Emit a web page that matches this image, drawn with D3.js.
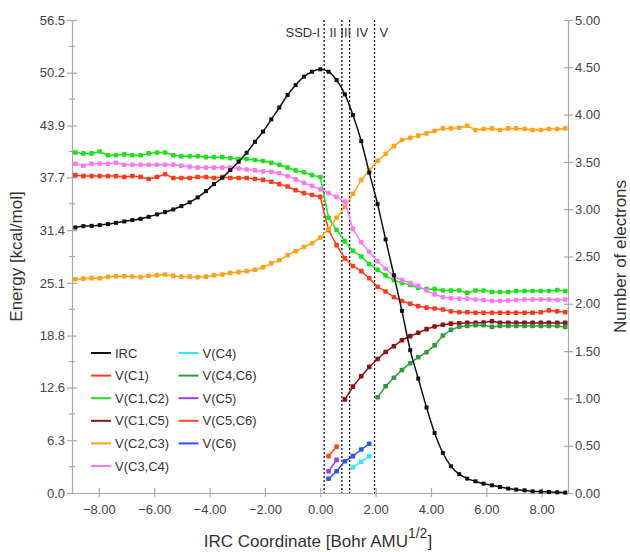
<!DOCTYPE html>
<html>
<head>
<meta charset="utf-8">
<script src="https://cdn.jsdelivr.net/npm/d3@7"></script>
<style>
  body { margin: 0; background: #fff; }
  svg { font-family: "Liberation Sans", Arial, Helvetica, sans-serif; }
  .axis path, .axis line { stroke: #a8a8a8; stroke-width: 1.2; }
  .axis text { fill: #444; font-size: 13px; }
</style>
</head>
<body>
<div id="chart"></div>
<script>
// IRC coordinate of every point on the path
const ircX = [-8.85, -8.56, -8.26, -7.97, -7.67, -7.38, -7.08, -6.79, -6.49, -6.20,
  -5.90, -5.61, -5.31, -5.02, -4.72, -4.43, -4.13, -3.84, -3.54, -3.25,
  -2.95, -2.66, -2.36, -2.07, -1.77, -1.48, -1.18, -0.89, -0.59, -0.30,
  0.00, 0.30, 0.59, 0.89, 1.18, 1.48, 1.77, 2.07, 2.36, 2.66,
  2.95, 3.25, 3.54, 3.84, 4.13, 4.43, 4.72, 5.02, 5.31, 5.61,
  5.90, 6.20, 6.49, 6.79, 7.08, 7.38, 7.67, 7.97, 8.26, 8.56, 8.85];

// energy profile, kcal/mol (left axis)
const irc = [31.72, 31.88, 31.91, 32.00, 32.12, 32.27, 32.44, 32.60, 32.75, 32.99,
  33.28, 33.55, 33.87, 34.27, 34.72, 35.31, 36.06, 36.90, 37.65, 38.57,
  39.56, 40.64, 41.95, 43.17, 44.63, 46.04, 47.54, 48.73, 49.73, 50.32,
  50.61, 50.32, 49.33, 47.62, 45.15, 42.04, 38.27, 34.51, 30.29, 26.02,
  21.75, 17.06, 13.67, 10.21, 7.17, 4.78, 3.20, 2.25, 1.72, 1.40,
  1.12, 0.92, 0.72, 0.53, 0.41, 0.32, 0.20, 0.17, 0.12, 0.08, 0.05];

// basin populations, electrons (right axis)
const vC1 = [3.36, 3.35, 3.35, 3.35, 3.35, 3.35, 3.34, 3.35, 3.34, 3.32,
  3.34, 3.37, 3.33, 3.33, 3.33, 3.34, 3.34, 3.33, 3.34, 3.33,
  3.33, 3.33, 3.32, 3.31, 3.29, 3.265, 3.24, 3.20, 3.17, 3.15,
  3.13, 2.78, 2.62, 2.48, 2.40, 2.345, 2.27, 2.18, 2.13, 2.07,
  2.03, 2.00, 1.975, 1.96, 1.95, 1.94, 1.92, 1.91, 1.91, 1.905,
  1.905, 1.905, 1.905, 1.905, 1.905, 1.905, 1.905, 1.91, 1.93, 1.92, 1.91];
const vC1C2 = [3.60, 3.59, 3.59, 3.61, 3.57, 3.57, 3.58, 3.57, 3.57, 3.59,
  3.60, 3.60, 3.57, 3.56, 3.56, 3.56, 3.55, 3.55, 3.55, 3.54,
  3.53, 3.53, 3.52, 3.51, 3.49, 3.47, 3.44, 3.41, 3.39, 3.36,
  3.34, 2.91, 2.78, 2.66, 2.56, 2.50, 2.42, 2.36, 2.30, 2.25,
  2.22, 2.20, 2.17, 2.155, 2.155, 2.14, 2.14, 2.14, 2.115, 2.14,
  2.14, 2.125, 2.125, 2.125, 2.135, 2.135, 2.135, 2.135, 2.135, 2.145, 2.135];
const vC1C5 = [0.99, 1.125, 1.234, 1.333, 1.416, 1.491, 1.552, 1.615, 1.658, 1.694,
  1.732, 1.76, 1.779, 1.79, 1.795, 1.798, 1.798, 1.802, 1.816, 1.80,
  1.80, 1.798, 1.80, 1.798, 1.798, 1.80, 1.798, 1.798];
const vC2C3 = [2.26, 2.266, 2.271, 2.27, 2.285, 2.292, 2.292, 2.289, 2.282, 2.297,
  2.303, 2.31, 2.295, 2.287, 2.287, 2.282, 2.287, 2.30, 2.31, 2.325,
  2.335, 2.345, 2.36, 2.385, 2.427, 2.461, 2.514, 2.555, 2.60, 2.64,
  2.70, 2.79, 2.91, 3.025, 3.163, 3.308, 3.413, 3.512, 3.583, 3.667,
  3.731, 3.754, 3.778, 3.802, 3.826, 3.854, 3.854, 3.861, 3.882, 3.837,
  3.847, 3.854, 3.837, 3.854, 3.854, 3.847, 3.837, 3.837, 3.847, 3.847, 3.854];
const vC3C4 = [3.48, 3.46, 3.48, 3.48, 3.48, 3.49, 3.47, 3.47, 3.47, 3.47,
  3.47, 3.47, 3.47, 3.46, 3.45, 3.44, 3.44, 3.44, 3.44, 3.44,
  3.43, 3.42, 3.41, 3.40, 3.395, 3.38, 3.35, 3.315, 3.28, 3.245,
  3.21, 3.17, 3.13, 3.08, 2.79, 2.65, 2.55, 2.45, 2.37, 2.29,
  2.25, 2.22, 2.19, 2.14, 2.10, 2.07, 2.06, 2.055, 2.055, 2.045,
  2.04, 2.03, 2.03, 2.035, 2.04, 2.045, 2.045, 2.045, 2.045, 2.04, 2.045];
const vC4 = [0.27, 0.33, 0.39];
const vC4C6 = [1.012, 1.129, 1.219, 1.301, 1.372, 1.435, 1.488, 1.56, 1.665, 1.725,
  1.758, 1.765, 1.774, 1.774, 1.756, 1.766, 1.766, 1.766, 1.766, 1.766,
  1.766, 1.766, 1.766, 1.756];
const vC5 = [0.23, 0.35];
const vC5C6 = [0.39, 0.49];
const vC6 = [0.15, 0.23, 0.335, 0.39, 0.46, 0.52];

const leftTicks = [0.0, 6.3, 12.6, 18.8, 25.1, 31.4, 37.7, 43.9, 50.2, 56.5];
const rightTicks = [0, 0.5, 1, 1.5, 2, 2.5, 3, 3.5, 4, 4.5, 5];
const xTicks = [-8, -6, -4, -2, 0, 2, 4, 6, 8];

// SSD region boundaries along the IRC
const sectionBounds = [0.14, 0.78, 1.06, 1.96];
const sectionNames = ['SSD-I', 'II', 'III', 'IV', 'V'];

// first index into ircX for every basin series
const basins = [
  { name: 'V(C1)', values: vC1, from: 0, color: '#ff3b1f' },
  { name: 'V(C1,C2)', values: vC1C2, from: 0, color: '#1ee01e' },
  { name: 'V(C1,C5)', values: vC1C5, from: 33, color: '#8e1414' },
  { name: 'V(C2,C3)', values: vC2C3, from: 0, color: '#ffa21a' },
  { name: 'V(C3,C4)', values: vC3C4, from: 0, color: '#f77cf3' },
  { name: 'V(C4)', values: vC4, from: 34, color: '#33e8ee' },
  { name: 'V(C4,C6)', values: vC4C6, from: 37, color: '#2f9b3c' },
  { name: 'V(C5)', values: vC5, from: 31, color: '#9d3cf0' },
  { name: 'V(C5,C6)', values: vC5C6, from: 31, color: '#ff4628' },
  { name: 'V(C6)', values: vC6, from: 31, color: '#2a55f5' }
];

const legendCols = [
  ['IRC', 'V(C1)', 'V(C1,C2)', 'V(C1,C5)', 'V(C2,C3)', 'V(C3,C4)'],
  ['V(C4)', 'V(C4,C6)', 'V(C5)', 'V(C5,C6)', 'V(C6)']
];

function drawChart() {
  const svgWidth = 630, svgHeight = 552;
  const margin = { top: 20, right: 62, bottom: 59, left: 72 };
  const width = svgWidth - margin.left - margin.right;
  const height = svgHeight - margin.top - margin.bottom;

  const x = d3.scaleLinear().domain([-8.97, 8.95]).range([0, width]);
  const yLeft = d3.scaleLinear().domain([0, 56.5]).range([height, 0]);
  const yRight = d3.scaleLinear().domain([0, 5]).range([height, 0]);

  const svg = d3.select('#chart')
    .append('svg')
    .attr('width', svgWidth)
    .attr('height', svgHeight);

  const g = svg.append('g')
    .attr('transform', 'translate(' + margin.left + ',' + margin.top + ')');

  // left axis, ticks cross the line
  const leftAxis = g.append('g')
    .attr('class', 'axis')
    .call(d3.axisLeft(yLeft).tickValues(leftTicks).tickFormat(d3.format('.1f'))
      .tickSize(5).tickSizeOuter(0).tickPadding(2));
  leftAxis.selectAll('.tick line').attr('x1', 5);

  // minor ticks halfway between labels
  g.append('g')
    .attr('class', 'axis')
    .selectAll('line')
    .data(d3.pairs(leftTicks))
    .enter()
    .append('line')
    .attr('x1', -3).attr('x2', 3)
    .attr('y1', d => yLeft((d[0] + d[1]) / 2))
    .attr('y2', d => yLeft((d[0] + d[1]) / 2));

  const rightAxis = g.append('g')
    .attr('class', 'axis')
    .attr('transform', 'translate(' + width + ',0)')
    .call(d3.axisRight(yRight).tickValues(rightTicks).tickFormat(d3.format('.2f'))
      .tickSize(5).tickSizeOuter(0).tickPadding(2));
  rightAxis.selectAll('.tick line').attr('x1', -4);

  const bottomAxis = g.append('g')
    .attr('class', 'axis')
    .attr('transform', 'translate(0,' + height + ')')
    .call(d3.axisBottom(x).tickValues(xTicks).tickFormat(d3.format('.2f'))
      .tickSize(4).tickSizeOuter(0).tickPadding(7.5));
  bottomAxis.selectAll('.tick line').attr('y1', -5);

  // dashed region boundaries
  g.selectAll('.bound')
    .data(sectionBounds)
    .enter()
    .append('line')
    .attr('class', 'bound')
    .attr('x1', d => x(d)).attr('x2', d => x(d))
    .attr('y1', 0).attr('y2', height)
    .attr('stroke', '#111')
    .attr('stroke-width', 1.3)
    .attr('stroke-dasharray', '2,2');

  const labelPos = sectionNames.map((name, i) => {
    if (i === 0) return { name, x: x(sectionBounds[0]) - 4, anchor: 'end' };
    if (i === sectionNames.length - 1) return { name, x: x(sectionBounds[i - 1]) + 5, anchor: 'start' };
    return { name, x: (x(sectionBounds[i - 1]) + x(sectionBounds[i])) / 2, anchor: 'middle' };
  });
  g.selectAll('.section')
    .data(labelPos)
    .enter()
    .append('text')
    .attr('class', 'section')
    .attr('x', d => d.x)
    .attr('y', 17)
    .attr('text-anchor', d => d.anchor)
    .attr('font-size', 13)
    .attr('fill', '#333')
    .text(d => d.name);

  // basin curves
  basins.forEach(b => {
    const pts = b.values.map((v, i) => [ircX[b.from + i], v]);
    g.append('path')
      .datum(pts)
      .attr('fill', 'none')
      .attr('stroke', b.color)
      .attr('stroke-width', 1.5)
      .attr('d', d3.line().x(d => x(d[0])).y(d => yRight(d[1])));
    g.append('g')
      .selectAll('rect')
      .data(pts)
      .enter()
      .append('rect')
      .attr('x', d => x(d[0]) - 2.3)
      .attr('y', d => yRight(d[1]) - 2.3)
      .attr('width', 4.6).attr('height', 4.6)
      .attr('rx', 0.8)
      .attr('fill', b.color);
  });

  // IRC energy profile on top
  const ircPts = irc.map((v, i) => [ircX[i], v]);
  g.append('path')
    .datum(ircPts)
    .attr('fill', 'none')
    .attr('stroke', '#111')
    .attr('stroke-width', 1.5)
    .attr('d', d3.line().curve(d3.curveMonotoneX).x(d => x(d[0])).y(d => yLeft(d[1])));
  g.append('g')
    .selectAll('rect')
    .data(ircPts)
    .enter()
    .append('rect')
    .attr('x', d => x(d[0]) - 2)
    .attr('y', d => yLeft(d[1]) - 2)
    .attr('width', 4).attr('height', 4)
    .attr('fill', '#111');

  // legend
  const colorOf = { IRC: '#111' };
  basins.forEach(b => { colorOf[b.name] = b.color; });
  legendCols.forEach((col, c) => {
    const lg = g.append('g')
      .attr('transform', 'translate(' + (19 + c * 87.5) + ',333)');
    const rows = lg.selectAll('g')
      .data(col)
      .enter()
      .append('g')
      .attr('transform', (d, i) => 'translate(0,' + i * 22.6 + ')');
    rows.append('line')
      .attr('x1', 0).attr('x2', 20)
      .attr('stroke', d => colorOf[d])
      .attr('stroke-width', 2);
    rows.append('text')
      .attr('x', 24)
      .attr('y', 4.6)
      .attr('font-size', 13)
      .attr('fill', '#333')
      .text(d => d);
  });

  // axis titles
  svg.append('text')
    .attr('transform', 'translate(22,' + (margin.top + height / 2) + ') rotate(-90)')
    .attr('text-anchor', 'middle')
    .attr('font-size', 17)
    .attr('fill', '#333')
    .text('Energy [kcal/mol]');

  svg.append('text')
    .attr('transform', 'translate(626,' + (margin.top + height / 2) + ') rotate(-90)')
    .attr('text-anchor', 'middle')
    .attr('font-size', 17)
    .attr('fill', '#333')
    .text('Number of electrons');

  const xTitle = svg.append('text')
    .attr('x', 318)
    .attr('y', 547)
    .attr('text-anchor', 'middle')
    .attr('font-size', 17)
    .attr('fill', '#333');
  xTitle.append('tspan').text('IRC Coordinate [Bohr AMU');
  xTitle.append('tspan').attr('dy', -9).attr('font-size', 14).text('1/2');
  xTitle.append('tspan').attr('dy', 9).text(']');
}

drawChart();
</script>
</body>
</html>
